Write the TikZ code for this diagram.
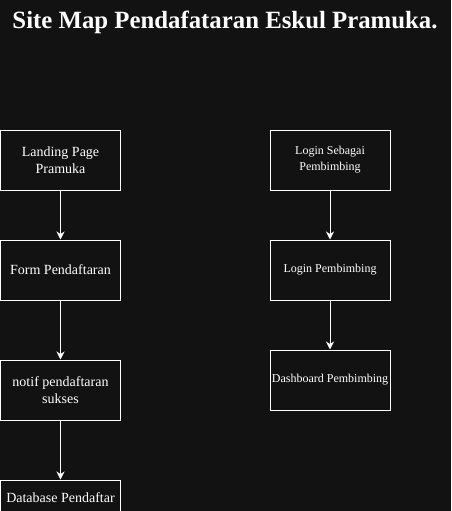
\documentclass[tikz,border=0pt]{standalone}
\usepackage{fontspec}
\setmainfont{Liberation Serif}
\usetikzlibrary{arrows.meta}
\definecolor{bgc}{RGB}{18,18,18}
\begin{document}
\begin{tikzpicture}[x=1pt,y=-1pt,
  pagebox/.style={draw=white,line width=1pt,fill=bgc,minimum width=120pt,minimum height=60pt,inner sep=0pt,align=center,text=white},
  bigtxt/.style={font=\fontsize{14}{17.5}\selectfont},
  smalltxt/.style={font=\fontsize{12}{16}\selectfont},
  flow/.style={draw=white,line width=1pt,-{Stealth[length=8pt,width=8pt,inset=2.5pt]}}]
\fill[bgc] (0,0) rectangle (451,511);
\useasboundingbox (0,0) rectangle (451,511);
\node[text=white,anchor=base,font=\bfseries\fontsize{24.8}{28}\selectfont] (title) at (225,29) {Site Map Pendafataran Eskul Pramuka.};
\node[pagebox,bigtxt] (landing) at (60.5,160) {Landing Page\\Pramuka};
\node[pagebox,bigtxt] (form) at (60.5,270) {Form Pendaftaran};
\node[pagebox,bigtxt] (notif) at (60.5,390) {notif pendaftaran\\sukses};
\node[pagebox,bigtxt,minimum height=36pt] (db) at (60.5,498) {Database Pendaftar};
\node[pagebox,smalltxt] (loginas) at (330,160) {Login Sebagai\\Pembimbing};
\node[pagebox,smalltxt] (login) at (330,270) {Login Pembimbing};
\node[pagebox,smalltxt] (dash) at (330,380) {Dashboard Pembimbing};
\draw[flow] (landing) -- (form);
\draw[flow] (form) -- (notif);
\draw[flow] (notif) -- (db);
\draw[flow] (loginas) -- (login);
\draw[flow] (login) -- (dash);
\end{tikzpicture}
\end{document}
